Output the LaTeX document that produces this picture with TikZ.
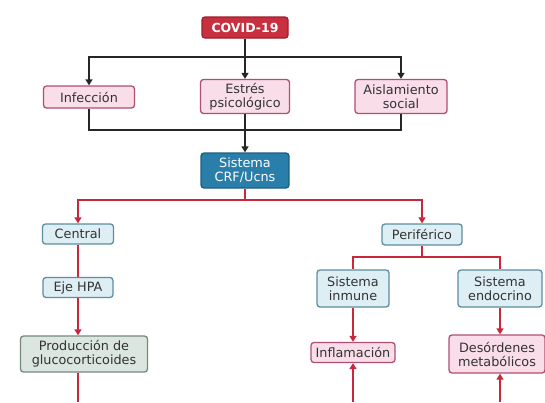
\documentclass[tikz,border=0pt]{standalone}
\usepackage{fontspec}
\setmainfont{DejaVu Sans}
\usetikzlibrary{arrows.meta}
\definecolor{covidfill}{HTML}{C8303F}
\definecolor{coviddraw}{HTML}{9C1F2D}
\definecolor{pinkfill}{HTML}{F9DDE8}
\definecolor{pinkdraw}{HTML}{B04F72}
\definecolor{bluefill}{HTML}{DDEEF4}
\definecolor{bluedraw}{HTML}{5F8E9E}
\definecolor{crffill}{HTML}{2A7EAA}
\definecolor{crfdraw}{HTML}{1D5E80}
\definecolor{greenfill}{HTML}{DCE6E0}
\definecolor{greendraw}{HTML}{76897F}
\definecolor{txtgray}{HTML}{333333}
\definecolor{blkline}{HTML}{262626}
\definecolor{redline}{HTML}{C9283B}
\begin{document}
\begin{tikzpicture}[x=1pt,y=-1pt,
  font=\fontsize{12.8}{14}\selectfont,
  box/.style={draw, rounded corners=3pt, line width=1.3pt, align=center,
    inner sep=0pt, text=txtgray},
  pinkbox/.style={box, fill=pinkfill, draw=pinkdraw},
  bluebox/.style={box, fill=bluefill, draw=bluedraw},
  greenbox/.style={box, fill=greenfill, draw=greendraw},
  covidbox/.style={box, fill=covidfill, draw=coviddraw, text=white, font=\fontsize{12.5}{14}\selectfont\bfseries},
  crfbox/.style={box, fill=crffill, draw=crfdraw, text=white},
  blk/.style={draw=blkline, line width=1.8pt},
  rl/.style={draw=redline, line width=1.8pt},
  tip/.style={-{Triangle[width=7pt,length=6pt]}}
]
\useasboundingbox (0,0) rectangle (545,402);
\fill[white] (0,0) rectangle (545,402);

% nodes
\node[covidbox, minimum width=86pt, minimum height=21pt] (covid) at (245,27.5) {COVID-19};
\node[pinkbox, minimum width=91pt, minimum height=22pt] (inf) at (89,97) {Infección};
\node[pinkbox, minimum width=89pt, minimum height=34pt] (estres) at (245,96.5) {Estrés\\psicológico};
\node[pinkbox, minimum width=92pt, minimum height=34pt] (aisl) at (401,96.5) {Aislamiento\\social};
\node[crfbox, minimum width=88pt, minimum height=35pt] (crf) at (245,170.5) {Sistema\\CRF/Ucns};
\node[bluebox, minimum width=71pt, minimum height=20pt] (central) at (78,234) {Central};
\node[bluebox, minimum width=80pt, minimum height=21pt] (perif) at (422,234.5) {Periférico};
\node[bluebox, minimum width=70pt, minimum height=20pt] (eje) at (78,287.5) {Eje HPA};
\node[greenbox, minimum width=127pt, minimum height=36pt] (prod) at (84,354) {Producción de\\glucocorticoides};
\node[bluebox, minimum width=72pt, minimum height=37pt] (inm) at (353,288.5) {Sistema\\inmune};
\node[bluebox, minimum width=84pt, minimum height=37pt] (endo) at (500,288.5) {Sistema\\endocrino};
\node[pinkbox, minimum width=84pt, minimum height=20pt] (infl) at (353,352.5) {Inflamación};
\node[pinkbox, minimum width=96pt, minimum height=38pt] (deso) at (497,354) {Desórdenes\\metabólicos};

% junctions
\coordinate (j1) at (245,57);
\coordinate (j2) at (245,130);
\coordinate (j3) at (245,200);
\coordinate (j4) at (422,257);
\coordinate (b1) at (78,402);
\coordinate (b2) at (353,402);
\coordinate (b3) at (500,402);

% black connectors
\draw[blk] (covid.south) -- (j1);
\draw[blk,tip] (j1) -| (inf.north);
\draw[blk,tip] (j1) -- (estres.north);
\draw[blk,tip] (j1) -| (aisl.north);
\draw[blk] (inf.south) |- (j2);
\draw[blk] (aisl.south) |- (j2);
\draw[blk] (estres.south) -- (j2);
\draw[blk,tip] (j2) -- (crf.north);

% red connectors
\draw[rl] (crf.south) -- (j3);
\draw[rl,tip] (j3) -| (central.north);
\draw[rl,tip] (j3) -| (perif.north);
\draw[rl] (central.south) -- (eje.north);
\draw[rl,tip] (eje.south) -- (eje.south |- prod.north);
\draw[rl] (prod.south -| eje.south) -- (b1);
\draw[rl] (perif.south) -- (j4);
\draw[rl] (j4) -| (inm.north);
\draw[rl] (j4) -| (endo.north);
\draw[rl,tip] (inm.south) -- (infl.north);
\draw[rl,tip] (endo.south) -- (endo.south |- deso.north);
\draw[rl,tip] (b2) -- (infl.south);
\draw[rl,tip] (b3) -- (b3 |- deso.south);
\end{tikzpicture}
\end{document}
